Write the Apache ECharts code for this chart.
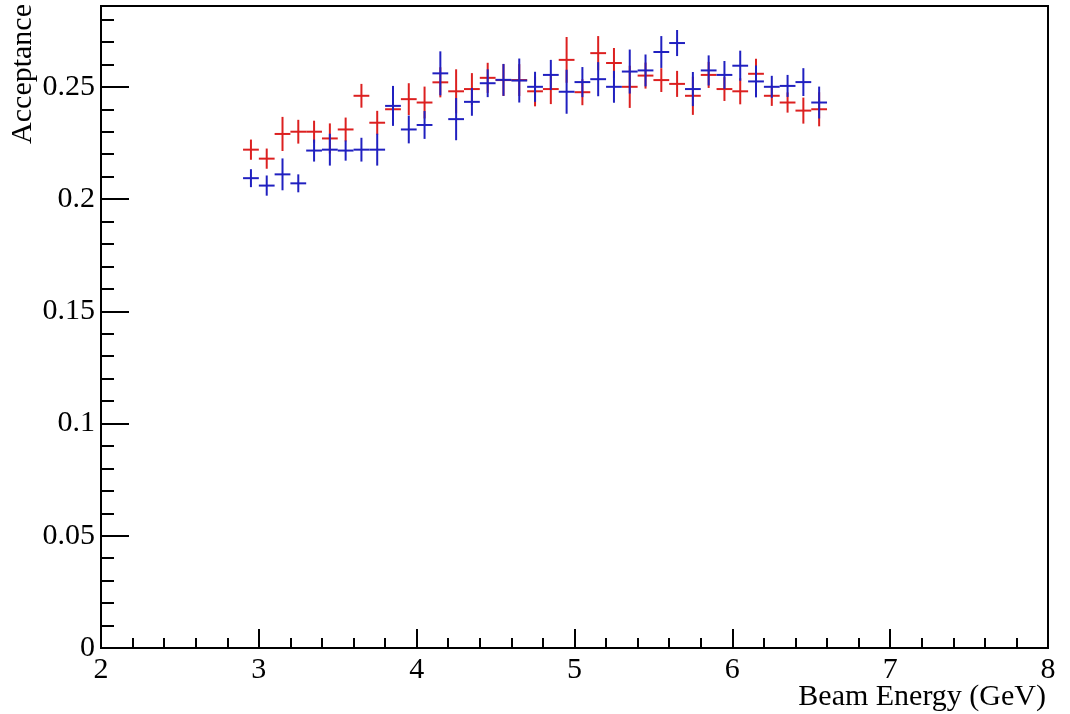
<!DOCTYPE html>
<html>
<head>
<meta charset="utf-8">
<script src="https://cdn.jsdelivr.net/npm/echarts@6/dist/echarts.min.js"></script>
<style>
  html, body { margin: 0; padding: 0; background: #fff; }
  #chart { width: 1070px; height: 714px; }
</style>
</head>
<body>
<div id="chart"></div>
<script>
// bin centres (GeV), bin half width 0.05
var energy = [2.95, 3.05, 3.15, 3.25, 3.35, 3.45, 3.55, 3.65, 3.75, 3.85,
              3.95, 4.05, 4.15, 4.25, 4.35, 4.45, 4.55, 4.65, 4.75, 4.85,
              4.95, 5.05, 5.15, 5.25, 5.35, 5.45, 5.55, 5.65, 5.75, 5.85,
              5.95, 6.05, 6.15, 6.25, 6.35, 6.45, 6.55];
var binHalf = 0.05;

var redAcc = [0.222, 0.218, 0.229, 0.230, 0.230, 0.227, 0.231, 0.246, 0.234, 0.240,
              0.2445, 0.243, 0.252, 0.248, 0.249, 0.254, 0.253, 0.253, 0.248, 0.249,
              0.262, 0.2476, 0.265, 0.2606, 0.250, 0.255, 0.253, 0.2513, 0.246, 0.2553,
              0.249, 0.248, 0.2558, 0.246, 0.243, 0.2394, 0.240];
var redErr = [0.0045, 0.0045, 0.0076, 0.0053, 0.0049, 0.0067, 0.0053, 0.0053, 0.0053, 0.0067,
              0.0071, 0.0071, 0.0067, 0.0098, 0.0071, 0.0067, 0.0071, 0.0071, 0.0067, 0.0067,
              0.0102, 0.0058, 0.0076, 0.0067, 0.0094, 0.0058, 0.0053, 0.0058, 0.0085, 0.0058,
              0.0053, 0.0058, 0.0067, 0.0045, 0.0045, 0.0058, 0.0076];

var blueAcc = [0.2093, 0.206, 0.211, 0.207, 0.2216, 0.222, 0.2216, 0.222, 0.222, 0.2415,
               0.231, 0.233, 0.256, 0.2356, 0.2433, 0.2516, 0.2531, 0.2528, 0.250, 0.2553,
               0.2478, 0.2521, 0.2534, 0.250, 0.2568, 0.2573, 0.2655, 0.2695, 0.249, 0.2573,
               0.2553, 0.2594, 0.2524, 0.250, 0.2504, 0.2521, 0.243];
var blueErr = [0.0040, 0.0045, 0.0071, 0.0040, 0.0049, 0.0071, 0.0045, 0.0053, 0.0071, 0.0089,
               0.0062, 0.0062, 0.0098, 0.0094, 0.0062, 0.0062, 0.0071, 0.0098, 0.0067, 0.0067,
               0.0098, 0.0067, 0.0076, 0.0071, 0.0098, 0.0071, 0.0071, 0.0058, 0.0076, 0.0067,
               0.0062, 0.0067, 0.0071, 0.0049, 0.0049, 0.0062, 0.0071];

var xTicks = [2, 3, 4, 5, 6, 7, 8];
var yTicks = [0, 0.05, 0.1, 0.15, 0.2, 0.25];

var font = 'Liberation Serif';

function zip(vals, errs) {
    return energy.map(function (e, i) { return [e, vals[i], errs[i]]; });
}

function crossItem(color) {
    return function (params, api) {
        var x = api.value(0), y = api.value(1), err = api.value(2);
        var l = api.coord([x - binHalf, y]);
        var r = api.coord([x + binHalf, y]);
        var t = api.coord([x, y + err]);
        var b = api.coord([x, y - err]);
        var st = { stroke: color, lineWidth: 2 };
        return {
            type: 'group',
            children: [
                { type: 'line', shape: { x1: l[0], y1: l[1], x2: r[0], y2: r[1] }, style: st },
                { type: 'line', shape: { x1: t[0], y1: t[1], x2: b[0], y2: b[1] }, style: st }
            ]
        };
    };
}

var chart = echarts.init(document.getElementById('chart'));
chart.setOption({
    backgroundColor: '#fff',
    animation: false,
    grid: {
        left: 101, right: 22, top: 6, bottom: 66,
        show: true, borderColor: '#000', borderWidth: 2, backgroundColor: 'transparent'
    },
    xAxis: {
        type: 'value',
        min: xTicks[0], max: xTicks[xTicks.length - 1], interval: 1,
        axisLine: { show: true, onZero: false, lineStyle: { color: '#000', width: 2 } },
        axisTick: { show: true, inside: true, length: 19, lineStyle: { color: '#000', width: 2 } },
        minorTick: { show: true, splitNumber: 5, length: 10, lineStyle: { color: '#000', width: 2 } },
        splitLine: { show: false },
        axisLabel: { color: '#000', fontFamily: font, fontSize: 30, margin: 7 }
    },
    yAxis: [{
        type: 'value',
        min: 0, max: 0.286, interval: 0.05,
        axisLine: { show: true, lineStyle: { color: '#000', width: 2 } },
        axisTick: { show: true, inside: true, length: 28, lineStyle: { color: '#000', width: 2 } },
        splitLine: { show: false },
        axisLabel: {
            color: '#000', fontFamily: font, fontSize: 30, margin: 6, showMaxLabel: false,
            formatter: function (v) { return yTicks.indexOf(Math.round(v * 100) / 100) >= 0 ? String(Math.round(v * 100) / 100) : ''; }
        }
    }, {
        type: 'value', position: 'left', offset: 0,
        min: 0, max: 0.286, interval: 0.01,
        axisLine: { show: false },
        axisTick: { show: true, inside: true, length: 13, lineStyle: { color: '#000', width: 2 } },
        splitLine: { show: false },
        axisLabel: { show: false }
    }],
    graphic: [
        {
            type: 'text', x: 23, y: 4, rotation: Math.PI / 2,
            style: { text: 'Acceptance', font: '30px "Liberation Serif"', fill: '#000', align: 'right', verticalAlign: 'middle' }
        },
        {
            type: 'text', x: 1046, y: 697,
            style: { text: 'Beam Energy (GeV)', font: '30px "Liberation Serif"', fill: '#000', align: 'right', verticalAlign: 'middle' }
        }
    ],
    series: [
        { type: 'custom', name: 'red', renderItem: crossItem('#dc2020'), data: zip(redAcc, redErr), encode: { x: 0, y: 1 }, z: 3 },
        { type: 'custom', name: 'blue', renderItem: crossItem('#2020c0'), data: zip(blueAcc, blueErr), encode: { x: 0, y: 1 }, z: 4 }
    ]
});
</script>
</body>
</html>
